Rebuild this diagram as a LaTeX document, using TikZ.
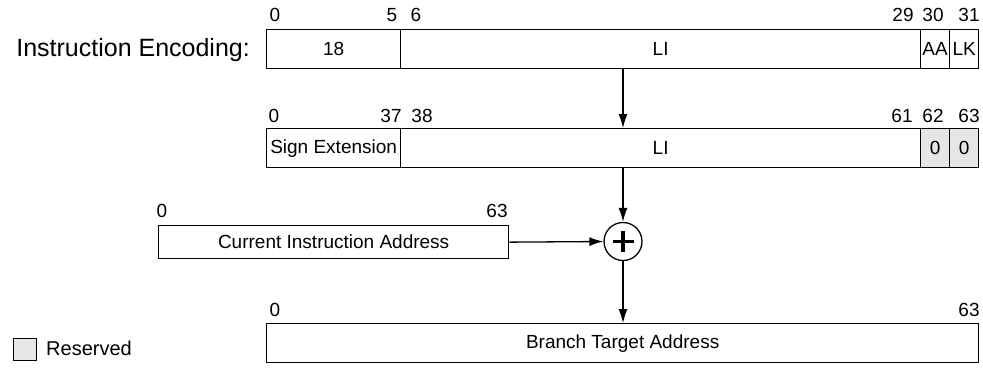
\documentclass[tikz,border=0pt]{standalone}
\usepackage{fontspec}
\setmainfont{Liberation Sans}
\usetikzlibrary{arrows.meta}
\definecolor{resgray}{RGB}{230,230,230}
\newcommand\lblfont{\fontsize{19}{21}\selectfont}
\newcommand\ttlfont{\fontsize{25}{28}\selectfont}
\begin{document}
\begin{tikzpicture}[x=1pt,y=-1pt,
  fld/.style={draw, line width=1.3pt, inner sep=0pt, anchor=north west, font=\lblfont},
  lbl/.style={inner sep=0pt, font=\lblfont},
  arr/.style={line width=1.3pt, -{Latex[length=14pt,width=9pt]}},
  res/.style={fill=resgray}]
\useasboundingbox (0,0) rectangle (983,368);

% title
\node[inner sep=0pt, anchor=base east, font=\ttlfont] (title) at (250,56) {Instruction Encoding:};

% row 1
\node[fld, minimum width=134, minimum height=39] (f18) at (266,29) {18};
\node[fld, minimum width=520, minimum height=39] (fLI) at (400,29) {LI};
\node[fld, minimum width=29, minimum height=39] (fAA) at (920,29) {AA};
\node[fld, minimum width=29, minimum height=39] (fLK) at (949,29) {LK};
\node[lbl] (a0) at (275,15) {0};
\node[lbl] (a5) at (392,15) {5};
\node[lbl] (a6) at (416,15) {6};
\node[lbl] (a29) at (903,15) {29};
\node[lbl] (a30) at (933,15) {30};
\node[lbl] (a31) at (969,15) {31};

% row 2
\node[fld, minimum width=134, minimum height=39] (fSE) at (266,128) {Sign Extension};
\node[fld, minimum width=520, minimum height=39] (fLI2) at (400,128) {LI};
\node[fld, res, minimum width=29, minimum height=39] (f62) at (920,128) {0};
\node[fld, res, minimum width=29, minimum height=39] (f63) at (949,128) {0};
\node[lbl] (b0) at (274,116) {0};
\node[lbl] (b37) at (391,116) {37};
\node[lbl] (b38) at (422,116) {38};
\node[lbl] (b61) at (902,116) {61};
\node[lbl] (b62) at (933,116) {62};
\node[lbl] (b63) at (969,116) {63};

% row 3
\node[fld, minimum width=350, minimum height=33] (cia) at (158,225) {Current Instruction Address};
\node[lbl] (c0) at (162,211) {0};
\node[lbl] (c63) at (497,211) {63};
\node[draw, circle, line width=1.3pt, minimum size=38, inner sep=0pt] (circ) at (623,241.5) {};
\draw[line width=3.5pt] ([xshift=-10.5pt]circ.center) -- ([xshift=10.5pt]circ.center);
\draw[line width=3.5pt] ([yshift=-10.5pt]circ.center) -- ([yshift=10.5pt]circ.center);

% row 4
\node[fld, minimum width=712, minimum height=39] (bta) at (266,323) {Branch Target Address};
\node[lbl] (d0) at (275,310) {0};
\node[lbl] (d63) at (969,310) {63};

% connectors
\draw[arr] (circ.center |- fLI.south) -- (circ.center |- fLI2.north);
\draw[arr] (circ.center |- fLI2.south) -- (circ.north);
\draw[arr] (cia.east) -- (circ.west);
\draw[arr] (circ.south) -- (circ.center |- bta.north);

% legend
\node[draw, res, line width=1.3pt, inner sep=0pt, minimum width=23, minimum height=22, anchor=north west] (legbox) at (13,337.5) {};
\node[lbl, anchor=west, font=\fontsize{20}{22}\selectfont] (legtxt) at (46,348.5) {Reserved};
\end{tikzpicture}
\end{document}
